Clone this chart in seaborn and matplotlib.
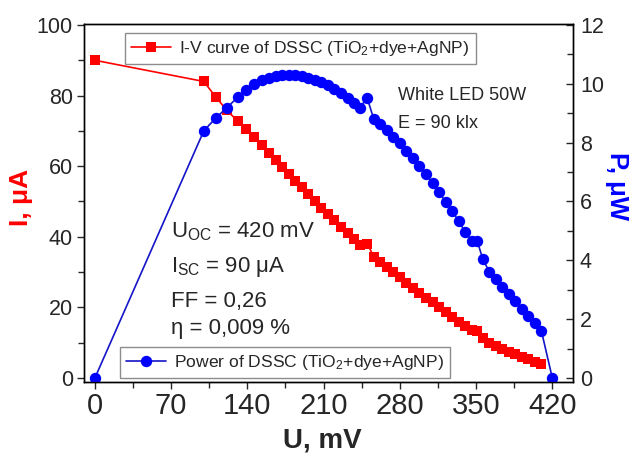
import matplotlib
matplotlib.use("Agg")
import matplotlib.pyplot as plt
import seaborn as sns
from matplotlib.lines import Line2D
from matplotlib.ticker import MultipleLocator

# ---- data ----
U_iv = [0, 100, 111, 121, 131, 139, 146, 153, 160, 166, 172, 178, 184, 190, 196,
        202, 208, 214, 220, 226, 232, 238, 243, 250, 256, 262, 268, 274, 280, 286,
        292, 298, 304, 310, 316, 322, 328, 334, 340, 346, 351, 356, 362, 368, 374,
        380, 386, 392, 398, 404, 410]
I_iv = [90, 84, 79.6, 75.9, 72.8, 70.5, 68.4, 66.1, 63.8, 61.8, 59.8, 57.9, 55.9, 54.0, 52.1,
        50.2, 48.3, 46.5, 44.7, 42.9, 41.1, 39.3, 37.8, 38.1, 34.4, 32.9, 31.4, 29.9, 28.5, 27.0,
        25.6, 24.2, 22.8, 21.4, 20.0, 18.6, 17.3, 16.0, 14.6, 13.5, 13.3, 11.4, 10.0, 9.1, 8.3,
        7.5, 6.8, 6.0, 5.3, 4.6, 3.9]
U_p = [0, 100, 111, 121, 131, 139, 146, 153, 160, 166, 172, 178, 184, 190, 196,
       202, 208, 214, 220, 226, 232, 238, 243, 250, 256, 262, 268, 274, 280, 286,
       292, 298, 304, 310, 316, 322, 328, 334, 340, 346, 351, 356, 362, 368, 374,
       380, 386, 392, 398, 404, 410, 420]
P_p = [0, 8.40, 8.84, 9.18, 9.54, 9.80, 9.98, 10.12, 10.21, 10.26, 10.29, 10.30, 10.29, 10.26, 10.21,
       10.14, 10.05, 9.95, 9.83, 9.69, 9.53, 9.36, 9.18, 9.52, 8.81, 8.62, 8.42, 8.19, 7.98, 7.72,
       7.48, 7.21, 6.93, 6.63, 6.32, 5.99, 5.67, 5.34, 4.96, 4.67, 4.67, 4.06, 3.62, 3.35, 3.10,
       2.85, 2.62, 2.35, 2.11, 1.86, 1.60, 0]

label_iv = "I-V curve of DSSC (TiO$_2$+dye+AgNP)"
label_p = "Power of DSSC (TiO$_2$+dye+AgNP)"
param_lines = ["U$_{\\mathrm{OC}}$ = 420 mV", "I$_{\\mathrm{SC}}$ = 90 \u03bcA",
               "FF = 0,26", "\u03b7 = 0,009 %"]
cond_lines = ["White LED 50W", "E = 90 klx"]

sns.set_style("ticks")
plt.rcParams["font.family"] = ["Liberation Sans", "DejaVu Sans"]
plt.rcParams["mathtext.fontset"] = "custom"
plt.rcParams["mathtext.rm"] = "Liberation Sans"
plt.rcParams["mathtext.it"] = "Liberation Sans:italic"
plt.rcParams["mathtext.bf"] = "Liberation Sans:bold"

W, H = 632, 455
fig = plt.figure(figsize=(W / 100, H / 100), dpi=100)
ax = fig.add_axes([84 / W, (H - 382) / H, 489 / W, 358 / H])
ax2 = ax.twinx()

RED = "#FF0000"
BLUE = "#0000FF"
BLUE_LINE = "#1414C8"
SQ = 7.4
CI = 8.2

sns.lineplot(x=U_iv, y=I_iv, ax=ax, color=RED, marker="s", markersize=SQ,
             markeredgewidth=0, linewidth=1.2, sort=False, estimator=None)
sns.lineplot(x=U_p, y=P_p, ax=ax2, color=BLUE, marker="o", markersize=CI,
             markeredgewidth=0, linewidth=1.2, sort=False, estimator=None)
ax2.lines[0].set_color(BLUE_LINE)
ax2.lines[0].set_markerfacecolor(BLUE)

ylo, yhi = -1.13, 100.28
ax.set_xlim(-10, 439)
ax.set_ylim(ylo, yhi)
ax2.set_ylim(ylo * 0.12, yhi * 0.12)

ax.xaxis.set_major_locator(MultipleLocator(70))
ax.xaxis.set_minor_locator(MultipleLocator(35))
ax.yaxis.set_major_locator(MultipleLocator(20))
ax.yaxis.set_minor_locator(MultipleLocator(10))
ax2.yaxis.set_major_locator(MultipleLocator(2))
ax2.yaxis.set_minor_locator(MultipleLocator(1))

ax.tick_params(axis="x", which="major", direction="out", length=5, width=1,
               labelsize=21, pad=2, top=False)
ax.tick_params(axis="x", which="minor", direction="out", length=4, width=1, top=False)
ax.tick_params(axis="y", which="major", direction="out", length=5, width=1,
               labelsize=15.5, pad=3)
ax.tick_params(axis="y", which="minor", direction="out", length=4, width=1)
ax2.tick_params(axis="y", which="major", direction="in", length=5, width=1,
                labelsize=15.5, pad=5)
ax2.tick_params(axis="y", which="minor", direction="in", length=4, width=1)
for a in (ax, ax2):
    for s in a.spines.values():
        s.set_color("black")
        s.set_linewidth(1.0)
ax.set_xlabel("")
ax.set_ylabel("")
ax2.set_ylabel("")

# axis titles
fig.text(322 / W, 1 - 447 / H, "U, mV", fontsize=20, fontweight="bold",
         ha="center", va="baseline")
fig.text(21 / W, 1 - 197 / H, "I, \u03bcA", fontsize=19, fontweight="bold",
         color=RED, rotation=90, ha="center", va="center")
fig.text(617 / W, 1 - 186 / H, "P, \u03bcW", fontsize=18.5, fontweight="bold",
         color=BLUE, rotation=270, ha="center", va="center")

# annotations
for txt, yb in zip(cond_lines, [100, 128]):
    fig.text(398 / W, 1 - yb / H, txt, fontsize=13, ha="left", va="baseline")
for txt, yb in zip(param_lines, [237, 272, 307, 334]):
    fig.text(171 / W, 1 - yb / H, txt, fontsize=16, ha="left", va="baseline")

# legends
h_iv = Line2D([], [], color=RED, marker="s", markersize=SQ, markeredgewidth=0, lw=1.2)
h_p = Line2D([], [], color=BLUE_LINE, marker="o", markersize=CI, markeredgewidth=0,
             markerfacecolor=BLUE, lw=1.2)
common = dict(fontsize=12.6, frameon=True, fancybox=False, framealpha=1,
              edgecolor="#8c8c8c", borderpad=0.35, borderaxespad=0,
              handlelength=2.3, handletextpad=0.45, bbox_transform=fig.transFigure)
leg1 = ax2.legend([h_iv], [label_iv], loc="upper left",
                  bbox_to_anchor=(125 / W, 1 - 33 / H), **common)
leg1.get_frame().set_linewidth(1.0)
ax2.add_artist(leg1)
leg2 = ax2.legend([h_p], [label_p], loc="lower left",
                  bbox_to_anchor=(120 / W, 1 - 378 / H), **common)
leg2.get_frame().set_linewidth(1.0)

fig.savefig("out.png", dpi=100)
